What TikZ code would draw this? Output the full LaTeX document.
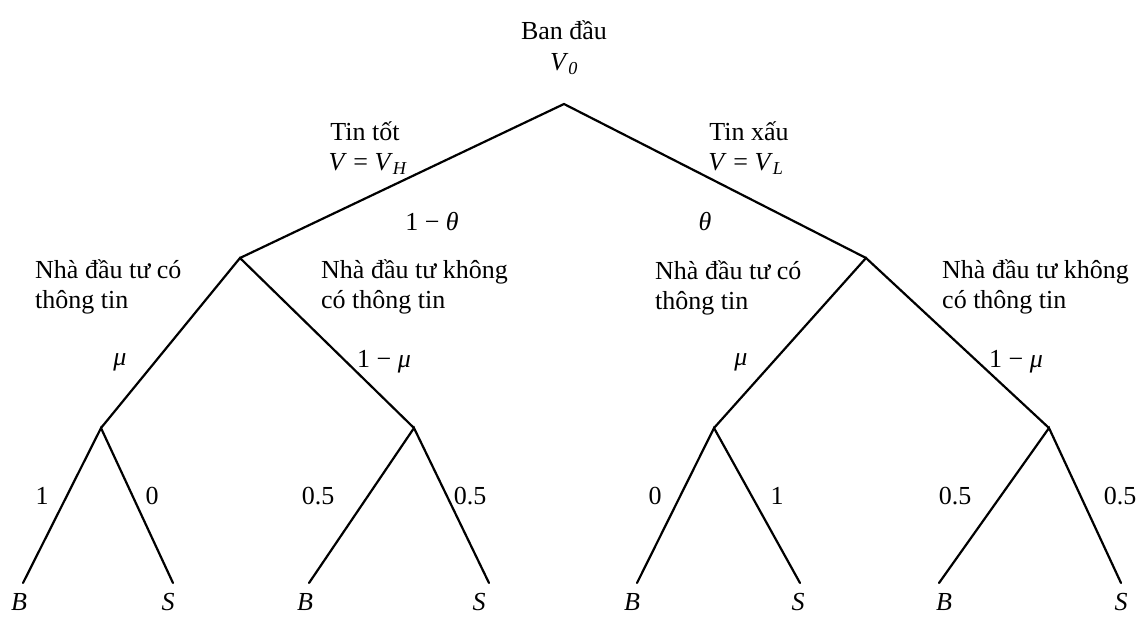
\documentclass[tikz,border=0pt]{standalone}
\usepackage{fontspec}
\setmainfont{Liberation Serif}
\begin{document}
\begin{tikzpicture}[x=1pt,y=-1pt,
  br/.style={line width=2.2pt,line cap=round},
  lbl/.style={inner sep=0pt,font=\fontsize{26}{30.5}\selectfont},
  ml/.style={lbl,align=left,anchor=west}]
\useasboundingbox (0,0) rectangle (1139,617);
% text at top
\node[lbl] (t0) at (564,30) {Ban đầu};
\node[lbl] (t1) at (564,64) {\textit{V}\textsubscript{\textit{0}}};
% tree points
\coordinate (r) at (564,104);
\coordinate (a) at (240,258);
\coordinate (b) at (866,258);
\coordinate (aa) at (101,428);
\coordinate (ab) at (414,428);
\coordinate (ba) at (714,428);
\coordinate (bb) at (1049,428);
\coordinate (aaB) at (23,583);
\coordinate (aaS) at (173,583);
\coordinate (abB) at (309,583);
\coordinate (abS) at (489,583);
\coordinate (baB) at (637,583);
\coordinate (baS) at (800,583);
\coordinate (bbB) at (939,583);
\coordinate (bbS) at (1121,583);
\draw[br] (a) -- (r) -- (b);
\draw[br] (aa) -- (a) -- (ab);
\draw[br] (ba) -- (b) -- (bb);
\draw[br] (aaB) -- (aa) -- (aaS);
\draw[br] (abB) -- (ab) -- (abS);
\draw[br] (baB) -- (ba) -- (baS);
\draw[br] (bbB) -- (bb) -- (bbS);
% level 1 labels
\node[lbl] (g1) at (365,131) {Tin tốt};
\node[lbl] (g2) at (368,164) {\textit{V} = \textit{V}\textsubscript{\textit{H}}};
\node[lbl] (x1) at (749,131) {Tin xấu};
\node[lbl] (x2) at (746,164) {\textit{V} = \textit{V}\textsubscript{\textit{L}}};
\node[lbl] (p1) at (432,222) {1 − \textit{θ}};
\node[lbl] (p2) at (705,222) {\textit{θ}};
% level 2 labels
\node[ml] (n1) at (35,287) {Nhà đầu tư có\\thông tin};
\node[ml] (n2) at (321,287) {Nhà đầu tư không\\có thông tin};
\node[ml] (n3) at (655,288) {Nhà đầu tư có\\thông tin};
\node[ml] (n4) at (942,287) {Nhà đầu tư không\\có thông tin};
\node[lbl] (m1) at (120,362) {\textit{μ}};
\node[lbl] (m2) at (384,362) {1 − \textit{μ}};
\node[lbl] (m3) at (741,362) {\textit{μ}};
\node[lbl] (m4) at (1016,362) {1 − \textit{μ}};
% leaf probabilities
\node[lbl] (q1) at (42,496) {1};
\node[lbl] (q2) at (152,496) {0};
\node[lbl] (q3) at (318,496) {0.5};
\node[lbl] (q4) at (470,496) {0.5};
\node[lbl] (q5) at (655,496) {0};
\node[lbl] (q6) at (777,496) {1};
\node[lbl] (q7) at (955,496) {0.5};
\node[lbl] (q8) at (1120,496) {0.5};
% leaf labels
\node[lbl] (l1) at (19,602) {\textit{B}};
\node[lbl] (l2) at (168,602) {\textit{S}};
\node[lbl] (l3) at (305,602) {\textit{B}};
\node[lbl] (l4) at (479,602) {\textit{S}};
\node[lbl] (l5) at (632,602) {\textit{B}};
\node[lbl] (l6) at (798,602) {\textit{S}};
\node[lbl] (l7) at (944,602) {\textit{B}};
\node[lbl] (l8) at (1121,602) {\textit{S}};
\end{tikzpicture}
\end{document}
